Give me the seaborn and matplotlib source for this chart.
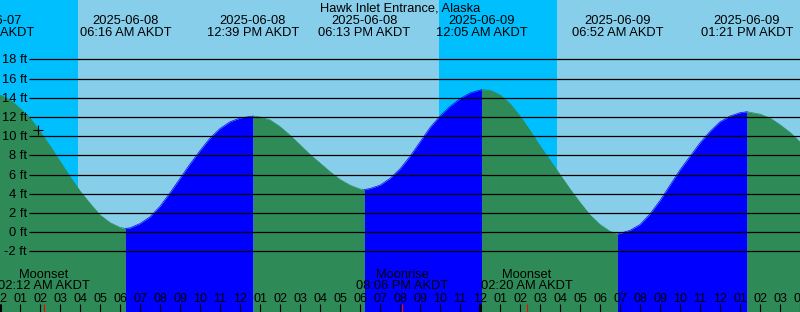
import numpy as np
import pandas as pd
import matplotlib
matplotlib.use("Agg")
import matplotlib.pyplot as plt
import seaborn as sns

title = "Hawk Inlet Entrance, Alaska"

# hours after 2025-06-08 00:00 AKDT, tide height in ft
curve_hours = [0.0, 0.5, 1.0, 1.5, 2.0, 2.5, 3.0, 3.5, 4.0, 4.5, 5.0, 5.5, 6.0,
               6.5, 7.0, 7.5, 8.0, 8.5, 9.0, 9.5, 10.0, 10.5, 11.0, 11.5, 12.0,
               13.0, 13.5, 14.0, 14.5, 15.0, 15.5, 16.0, 16.5, 17.0, 17.5, 18.0,
               18.5, 19.0, 19.5, 20.0, 20.5, 21.0, 21.5, 22.0, 22.5, 23.0, 23.5,
               24.5, 25.0, 25.5, 26.0, 26.5, 27.0, 27.5, 28.0, 28.5, 29.0, 29.5,
               30.0, 30.5, 31.5, 32.0, 32.5, 33.0, 33.5, 34.0, 34.5, 35.0, 35.5,
               36.0, 36.5, 37.0, 38.0, 38.5, 39.0, 39.5, 40.0]
curve_heights = [14.3, 13.8, 12.9, 11.9, 10.5, 9.0, 7.4, 5.8, 4.3, 3.0, 1.8, 1.0, 0.5,
                 0.45, 0.9, 1.6, 2.7, 4.1, 5.6, 7.1, 8.5, 9.8, 10.8, 11.5, 11.9,
                 12.0, 11.7, 11.0, 10.1, 9.1, 8.1, 7.2, 6.3, 5.5, 4.9, 4.5,
                 4.55, 4.9, 5.6, 6.6, 7.9, 9.4, 10.9, 12.1, 13.1, 13.9, 14.5,
                 14.8, 14.3, 13.4, 12.1, 10.6, 9.0, 7.5, 6.0, 4.5, 3.1, 1.8,
                 0.8, 0.1, 0.2, 0.8, 1.9, 3.3, 4.9, 6.5, 7.9, 9.3, 10.5,
                 11.5, 12.1, 12.45, 12.3, 11.9, 11.2, 10.4, 9.4]

# high / low tide events
event_hours = [-0.57, 6.27, 12.65, 18.22, 24.08, 30.87, 37.35]
event_heights = [14.6, 0.4, 12.1, 4.45, 14.85, -0.2, 12.55]
event_kinds = ["high", "low", "high", "low", "high", "low", "high"]
event_dates = ["2025-06-07", "2025-06-08", "2025-06-08", "2025-06-08",
               "2025-06-09", "2025-06-09", "2025-06-09"]
event_times = ["11:26 PM AKDT", "06:16 AM AKDT", "12:39 PM AKDT", "06:13 PM AKDT",
               "12:05 AM AKDT", "06:52 AM AKDT", "01:21 PM AKDT"]

# moon events
moon_hours = [2.2, 20.1, 26.333]
moon_names = ["Moonset", "Moonrise", "Moonset"]
moon_times = ["02:12 AM AKDT", "08:06 PM AKDT", "02:20 AM AKDT"]

# night intervals (sunset -> sunrise)
night_start = [-1.0, 21.95]
night_end = [3.885, 27.865]

# current-time mark
mark_hour, mark_height = 1.875, 10.7

level_ticks = [-2, 0, 2, 4, 6, 8, 10, 12, 14, 16, 18]
hour_ticks = list(range(0, 41))
hour_labels = ["%02d" % (12 if h % 12 == 0 else h % 12) for h in hour_ticks]
midnights = [0, 24]

DAY = "#87CEEB"
NIGHT = "#00BFFF"
RISE = "#0000FF"
FALL = "#2E8B57"

plt.rcParams['font.family'] = ['Liberation Sans', 'DejaVu Sans']
FS = 9.3

X0, X1 = 0.0, 40.0
Y_TOP, Y_BOT = 24.19, -8.31
PXFT = 312 / (Y_TOP - Y_BOT)


def fy(px):
    """axes fraction for a pixel row counted from the top"""
    return (312 - px) / 312


fig = plt.figure(figsize=(8, 3.12), dpi=100)
ax = fig.add_axes([0, 0, 1, 1])

# background
ax.axvspan(X0 - 2, X1 + 2, color=DAY, lw=0, zorder=0)
for s, e in zip(night_start, night_end):
    ax.axvspan(s, e, color=NIGHT, lw=0, zorder=0.1)

# assemble curve with segments
pts = pd.DataFrame({"hour": curve_hours + event_hours,
                    "height": curve_heights + event_heights}).sort_values("hour")
rows = []
for i, kind in enumerate(event_kinds):
    start = event_hours[i]
    end = event_hours[i + 1] if i + 1 < len(event_hours) else X1 + 1
    seg = pts[(pts.hour >= start) & (pts.hour <= end)].copy()
    seg["segment"] = i
    seg["direction"] = "falling" if kind == "high" else "rising"
    rows.append(seg)
df = pd.concat(rows, ignore_index=True)

for (i, d), seg in df.groupby(["segment", "direction"]):
    ax.fill_between(seg.hour, seg.height, Y_BOT, color=RISE if d == "rising" else FALL,
                    lw=0, zorder=1)
sns.lineplot(data=df, x="hour", y="height", hue="direction", units="segment",
             estimator=None, palette={"rising": RISE, "falling": FALL},
             legend=False, lw=0.5, ax=ax, zorder=1.1)
ax.set_xlim(X0, X1)
ax.set_ylim(Y_BOT, Y_TOP)
ax.axis('off')

# grid lines and level labels
ax.hlines(level_ticks, 29 / 20, X1, color="black", lw=0.9, zorder=3)
ytr = ax.get_yaxis_transform()
for lv in level_ticks:
    ax.text(27 / 800, lv - 4 / PXFT, f"{lv} ft", transform=ytr, ha="right",
            va="baseline", fontsize=FS, color="black", zorder=4)

# current mark
ax.plot([mark_hour], [mark_height], marker="+", ms=6.5, mew=0.8, color="black", zorder=5)

# title and event labels
ax.text(0.5, fy(11.7), title, transform=ax.transAxes, ha="center", va="baseline",
        fontsize=FS, color="black", zorder=4)
xtr = ax.get_xaxis_transform()
for h, d, t in zip(event_hours, event_dates, event_times):
    ax.text(h, fy(24), d, transform=xtr, ha="center", va="baseline", fontsize=FS, zorder=4)
    ax.text(h, fy(36), t, transform=xtr, ha="center", va="baseline", fontsize=FS, zorder=4)

# moon labels
for h, n, t in zip(moon_hours, moon_names, moon_times):
    ax.text(h, fy(277.7), n, transform=xtr, ha="center", va="baseline", fontsize=FS, zorder=4)
    ax.text(h, fy(289.3), t, transform=xtr, ha="center", va="baseline", fontsize=FS, zorder=4)

# hour ticks and labels
tick_h = 8 / 312
ax.vlines(hour_ticks, 0, tick_h, transform=xtr, color="black", lw=0.8, zorder=4)
ax.vlines(midnights, 0, tick_h, transform=xtr, color="black", lw=2.2, zorder=4)
ax.vlines(moon_hours, 0, tick_h, transform=xtr, color="red", lw=0.8, zorder=4.5)
for h, lab in zip(hour_ticks, hour_labels):
    ax.text(h, fy(301.7), lab, transform=xtr, ha="center", va="baseline",
            fontsize=9, zorder=4)

fig.savefig("out.png", dpi=100)
